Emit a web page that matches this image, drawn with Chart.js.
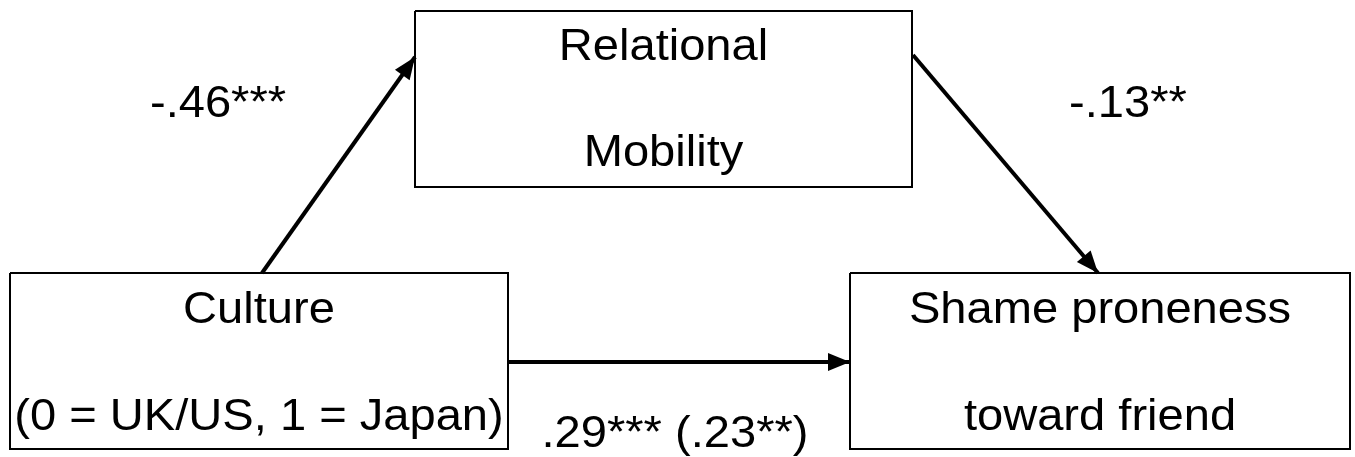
<!DOCTYPE html>
<html>
<head>
<meta charset="utf-8">
<script src="https://cdn.jsdelivr.net/npm/chart.js@4"></script>
<style>
  html, body { margin: 0; padding: 0; background: #fff; }
  #wrap { width: 1355px; height: 457px; }
</style>
</head>
<body>
<div id="wrap"><canvas id="myChart"></canvas></div>
<script>
// diagram content
const nodeNames = ["Relational Mobility", "Culture", "Shame proneness toward friend"];
const nodeLines = [
  ["Relational", "Mobility"],
  ["Culture", "(0 = UK/US, 1 = Japan)"],
  ["Shame proneness", "toward friend"],
];
const pathFrom = [1, 0, 1];
const pathTo = [0, 2, 2];
const pathLabels = ["-.46***", "-.13**", ".29*** (.23**)"];

// layout, in the same units as the (hidden) axes
const boxes = [
  { x0: 415, y0: 11, x1: 912, y1: 187, lines: [60, 166] },
  { x0: 10, y0: 273, x1: 508, y1: 449, lines: [323, 430] },
  { x0: 850, y0: 273, x1: 1350, y1: 449, lines: [323, 430] },
];
const arrows = [
  { x0: 262, y0: 273, x1: 415, y1: 57, lx: 218, ly: 117 },
  { x0: 913, y0: 55, x1: 1098, y1: 273, lx: 1128, ly: 117 },
  { x0: 508, y0: 362, x1: 850, y1: 362, lx: 675, ly: 447 },
];

const FONT = '44px "Liberation Sans", Arial, sans-serif';
const STRETCH = 1.07;

function boxData(b) {
  return [
    { x: b.x0, y: b.y0 }, { x: b.x1, y: b.y0 },
    { x: b.x1, y: b.y1 }, { x: b.x0, y: b.y1 }, { x: b.x0, y: b.y0 },
  ];
}

const datasets = [];
boxes.forEach((b, i) => {
  datasets.push({
    label: nodeNames[i],
    data: boxData(b),
    showLine: true,
    borderColor: "#000",
    borderWidth: 2,
    pointRadius: 0,
    clip: false,
  });
});
arrows.forEach((a, i) => {
  datasets.push({
    label: pathLabels[i],
    data: [{ x: a.x0, y: a.y0 }, { x: a.x1, y: a.y1 }],
    showLine: true,
    borderColor: "#000",
    borderWidth: 4,
    borderCapStyle: "butt",
    pointRadius: 0,
    clip: false,
    isArrow: true,
  });
});

function drawText(ctx, text, x, y) {
  ctx.save();
  ctx.translate(x, y);
  ctx.scale(STRETCH, 1);
  ctx.fillText(text, 0, 0);
  ctx.restore();
}

const diagramPlugin = {
  id: "diagram",
  afterDatasetsDraw(chart) {
    const ctx = chart.ctx;
    const xs = chart.scales.x;
    const ys = chart.scales.y;
    ctx.save();
    ctx.fillStyle = "#000";

    // arrowheads at the end of each path line
    chart.data.datasets.forEach((ds, i) => {
      if (!ds.isArrow) return;
      const pts = chart.getDatasetMeta(i).data;
      const p0 = pts[0], p1 = pts[1];
      const ang = Math.atan2(p1.y - p0.y, p1.x - p0.x);
      const len = 22, half = 9;
      ctx.beginPath();
      ctx.moveTo(p1.x, p1.y);
      ctx.lineTo(p1.x - len * Math.cos(ang) + half * Math.sin(ang),
                 p1.y - len * Math.sin(ang) - half * Math.cos(ang));
      ctx.lineTo(p1.x - len * Math.cos(ang) - half * Math.sin(ang),
                 p1.y - len * Math.sin(ang) + half * Math.cos(ang));
      ctx.closePath();
      ctx.fill();
    });

    ctx.font = FONT;
    ctx.textAlign = "center";
    ctx.textBaseline = "alphabetic";

    // node labels
    boxes.forEach((b, i) => {
      const cx = xs.getPixelForValue((b.x0 + b.x1) / 2);
      nodeLines[i].forEach((t, j) => {
        drawText(ctx, t, cx, ys.getPixelForValue(b.lines[j]));
      });
    });

    // path coefficients
    arrows.forEach((a, i) => {
      drawText(ctx, pathLabels[i], xs.getPixelForValue(a.lx), ys.getPixelForValue(a.ly));
    });
    ctx.restore();
  },
};

new Chart(document.getElementById("myChart").getContext("2d"), {
  type: "scatter",
  data: { datasets: datasets },
  options: {
    responsive: true,
    maintainAspectRatio: false,
    animation: false,
    layout: { padding: 0 },
    plugins: { legend: { display: false }, tooltip: { enabled: false } },
    scales: {
      x: { type: "linear", min: 0, max: 1355, display: false },
      y: { type: "linear", min: 0, max: 457, reverse: true, display: false },
    },
  },
  plugins: [diagramPlugin],
});
</script>
</body>
</html>
